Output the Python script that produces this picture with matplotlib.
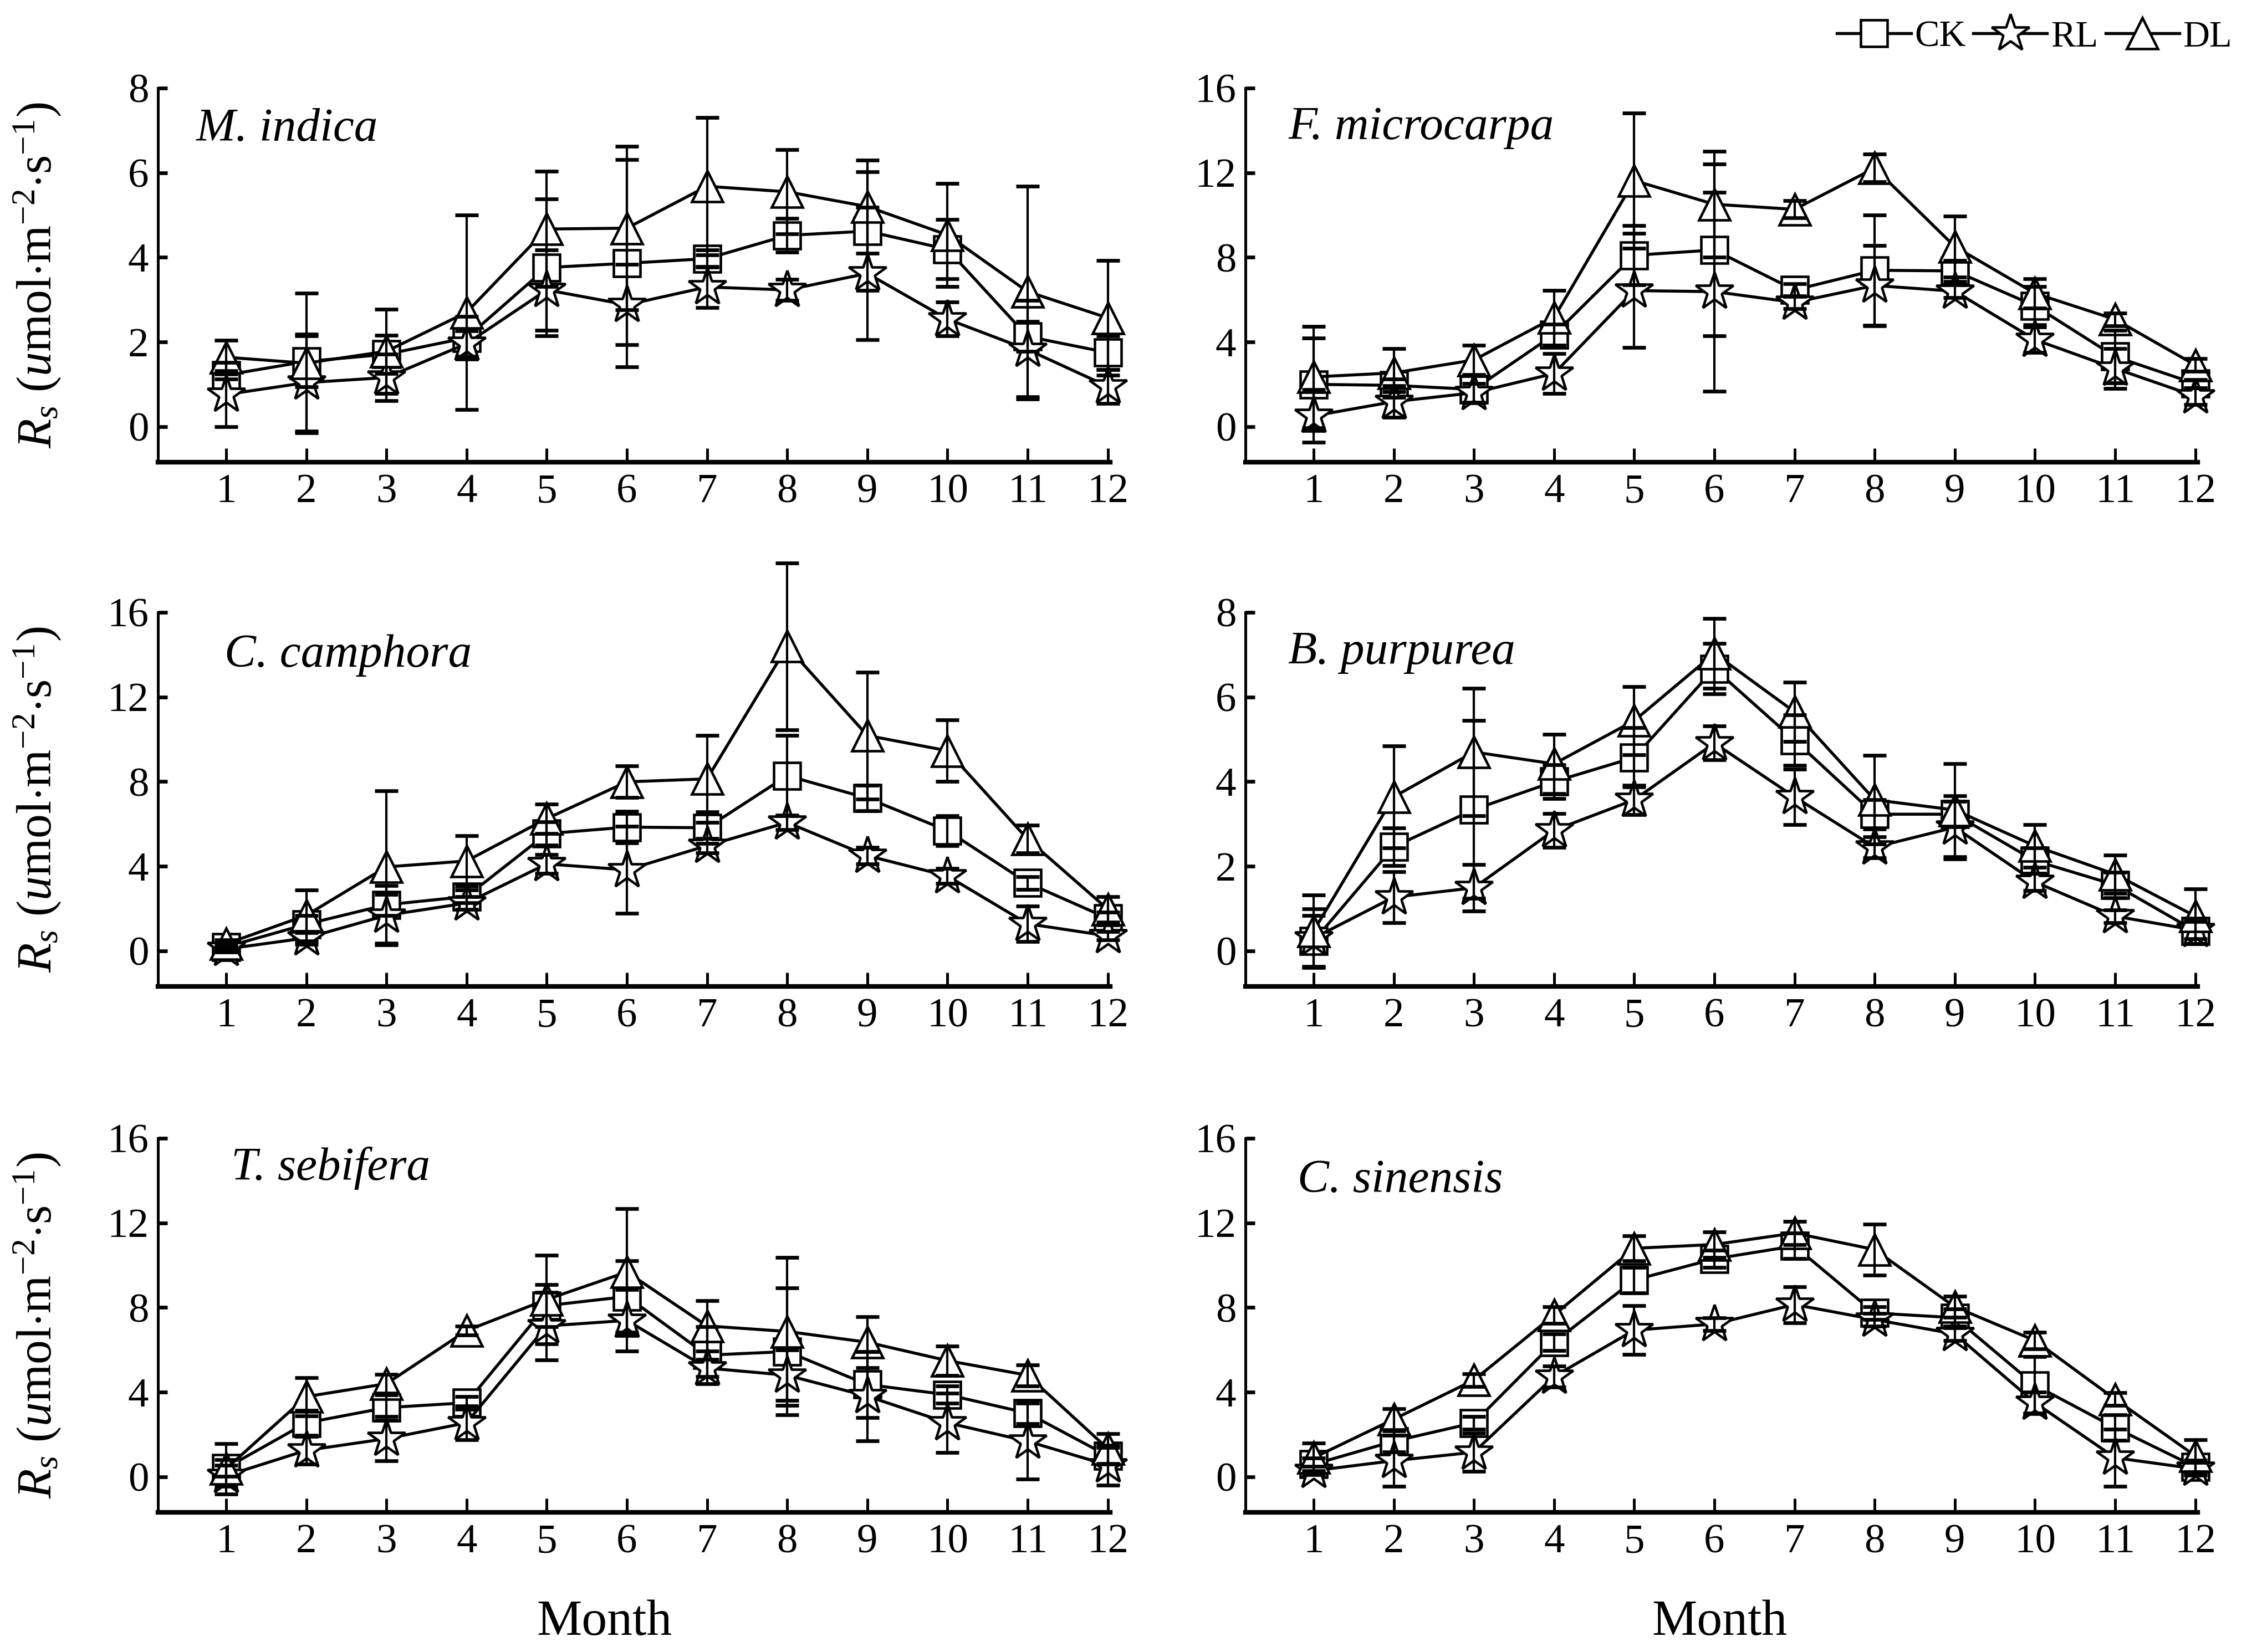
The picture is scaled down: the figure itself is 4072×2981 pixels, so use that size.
import numpy as np
import matplotlib
matplotlib.use("Agg")
import matplotlib.pyplot as plt
from matplotlib.lines import Line2D

plt.rcParams['font.family'] = ['Liberation Serif', 'DejaVu Serif']
plt.rcParams['mathtext.fontset'] = 'custom'
plt.rcParams['mathtext.rm'] = 'Liberation Serif'
plt.rcParams['mathtext.it'] = 'Liberation Serif:italic'
plt.rcParams['mathtext.bf'] = 'Liberation Serif:bold'

months = list(range(1, 13))
species = ["M. indica", "F. microcarpa", "C. camphora", "B. purpurea", "T. sebifera", "C. sinensis"]
series_names = ["CK", "RL", "DL"]

# M. indica
mi_ck = [1.22, 1.54, 1.71, 2.10, 3.76, 3.86, 3.97, 4.52, 4.62, 4.19, 2.13, 1.75]
mi_rl = [0.76, 1.04, 1.16, 1.96, 3.23, 2.88, 3.30, 3.23, 3.62, 2.54, 1.82, 0.95]
mi_dl = [1.64, 1.50, 1.78, 2.70, 4.67, 4.69, 5.68, 5.55, 5.20, 4.53, 3.19, 2.57]
mi_ck_err = [0.10, 0.60, 0.45, 0.50, 1.62, 2.45, 0.20, 0.40, 1.40, 0.70, 0.35, 0.40]
mi_rl_err = [0.76, 1.15, 0.55, 0.30, 0.95, 0.95, 0.48, 0.25, 1.57, 0.40, 1.17, 0.40]
mi_dl_err = [0.40, 1.65, 1.00, 2.30, 1.36, 1.93, 1.62, 1.00, 1.10, 1.22, 2.49, 1.36]

# F. microcarpa
fm_ck = [2.00, 1.95, 1.76, 4.35, 8.10, 8.35, 6.46, 7.39, 7.36, 5.71, 3.31, 2.03]
fm_rl = [0.51, 1.18, 1.60, 2.51, 6.43, 6.38, 5.87, 6.67, 6.40, 4.11, 2.75, 1.44]
fm_dl = [2.35, 2.54, 3.15, 5.15, 11.63, 10.51, 10.27, 12.22, 8.51, 6.30, 5.07, 2.91]
fm_ck_err = [2.20, 0.30, 0.65, 0.50, 1.40, 4.05, 0.30, 2.60, 0.50, 0.90, 1.25, 0.20]
fm_rl_err = [1.25, 0.75, 0.45, 0.95, 2.70, 4.70, 0.30, 1.90, 0.30, 0.60, 0.95, 0.40]
fm_dl_err = [2.40, 1.15, 0.70, 1.30, 3.20, 2.50, 0.40, 0.65, 1.45, 0.70, 0.30, 0.30]

# C. camphora
cc_ck = [0.19, 1.26, 2.18, 2.57, 5.54, 5.85, 5.82, 8.28, 7.22, 5.68, 3.21, 1.54]
cc_rl = [0.09, 0.61, 1.68, 2.26, 4.11, 3.83, 4.97, 6.07, 4.50, 3.54, 1.28, 0.71]
cc_dl = [0.33, 1.68, 3.97, 4.25, 6.25, 7.99, 8.13, 14.39, 10.18, 9.46, 5.28, 1.97]
cc_ck_err = [0.20, 0.40, 0.50, 0.30, 0.55, 0.75, 0.75, 1.90, 0.60, 0.70, 0.30, 0.30]
cc_rl_err = [0.15, 0.30, 1.40, 0.30, 0.45, 2.05, 0.35, 0.35, 0.40, 0.35, 0.85, 0.20]
cc_dl_err = [0.20, 1.20, 3.60, 1.20, 0.70, 0.75, 2.05, 3.95, 3.00, 1.45, 0.65, 0.60]

# B. purpurea
bp_ck = [0.23, 2.46, 3.34, 4.00, 4.57, 6.67, 4.98, 3.23, 3.23, 2.13, 1.56, 0.47]
bp_rl = [0.30, 1.27, 1.49, 2.85, 3.57, 4.91, 3.64, 2.45, 2.92, 1.63, 0.82, 0.49]
bp_dl = [0.47, 3.64, 4.70, 4.42, 5.44, 7.03, 5.65, 3.57, 3.33, 2.48, 1.81, 0.82]
bp_ck_err = [0.60, 0.45, 2.10, 0.40, 0.70, 0.60, 0.60, 0.35, 0.30, 0.30, 0.30, 0.30]
bp_rl_err = [0.70, 0.60, 0.55, 0.40, 0.35, 0.40, 0.65, 0.25, 0.75, 0.20, 0.15, 0.20]
bp_dl_err = [0.85, 1.20, 1.50, 0.70, 0.80, 0.82, 0.70, 1.05, 1.10, 0.50, 0.45, 0.65]

# T. sebifera
ts_ck = [0.42, 2.55, 3.27, 3.50, 8.09, 8.52, 5.75, 5.92, 4.36, 3.88, 3.01, 0.99]
ts_rl = [0.05, 1.25, 1.80, 2.55, 7.13, 7.39, 5.14, 4.80, 3.81, 2.55, 1.68, 0.55]
ts_dl = [0.38, 3.79, 4.40, 6.91, 8.38, 9.68, 7.13, 6.87, 6.36, 5.49, 4.80, 1.33]
ts_ck_err = [0.40, 0.60, 0.60, 0.30, 1.00, 1.70, 1.35, 3.00, 1.55, 0.40, 0.50, 0.40]
ts_rl_err = [0.50, 0.65, 1.05, 0.80, 1.60, 1.45, 0.40, 1.20, 2.10, 1.40, 1.80, 0.95]
ts_dl_err = [1.20, 0.90, 0.45, 0.20, 2.10, 3.00, 1.20, 3.50, 1.20, 0.70, 0.50, 0.70]

# C. sinensis
cs_ck = [0.59, 1.68, 2.55, 6.36, 9.30, 10.30, 10.91, 7.74, 7.52, 4.33, 2.32, 0.47]
cs_rl = [0.29, 0.76, 1.16, 4.74, 6.93, 7.22, 8.14, 7.43, 6.75, 3.50, 0.90, 0.38]
cs_dl = [0.90, 2.72, 4.57, 7.65, 10.80, 10.98, 11.52, 10.74, 8.03, 6.44, 3.67, 0.99]
cs_ck_err = [0.30, 0.50, 0.30, 0.40, 0.60, 0.40, 0.60, 0.30, 0.40, 1.35, 0.60, 0.30]
cs_rl_err = [0.20, 1.20, 0.90, 0.50, 1.15, 0.30, 0.85, 0.30, 0.30, 0.50, 1.35, 0.30]
cs_dl_err = [0.70, 0.50, 0.30, 0.40, 0.60, 0.60, 0.55, 1.20, 0.50, 0.40, 0.30, 0.75]

panels = [
    (species[0], [mi_ck, mi_rl, mi_dl], [mi_ck_err, mi_rl_err, mi_dl_err]),
    (species[1], [fm_ck, fm_rl, fm_dl], [fm_ck_err, fm_rl_err, fm_dl_err]),
    (species[2], [cc_ck, cc_rl, cc_dl], [cc_ck_err, cc_rl_err, cc_dl_err]),
    (species[3], [bp_ck, bp_rl, bp_dl], [bp_ck_err, bp_rl_err, bp_dl_err]),
    (species[4], [ts_ck, ts_rl, ts_dl], [ts_ck_err, ts_rl_err, ts_dl_err]),
    (species[5], [cs_ck, cs_rl, cs_dl], [cs_ck_err, cs_rl_err, cs_dl_err]),
]
ymax = [8, 16, 16, 8, 16, 16]
label_pos = [(0.040, 0.89), (0.045, 0.894), (0.070, 0.885), (0.045, 0.892), (0.077, 0.92), (0.055, 0.886)]

markers = ['s', '*', '^']
msizes = [11.5, 17, 13.5]

W, H = 4072, 2981
fig = plt.figure(figsize=(W / 300, H / 300), dpi=300)

col_left = [285 / W, 2247 / W]
col_w = 1718 / W
row_bottom = [1 - 834 / H, 1 - 1780 / H, 1 - 2729 / H]
row_h = 675 / H

for i, (name, vals, errs) in enumerate(panels):
    r, c = divmod(i, 2)
    ax = fig.add_axes([col_left[c], row_bottom[r], col_w, row_h])
    for k in range(3):
        ax.plot(months, vals[k], color='black', lw=1.3, marker=markers[k],
                markersize=msizes[k], markerfacecolor='white', markeredgecolor='black',
                markeredgewidth=1.1, zorder=2, clip_on=False)
        eb = ax.errorbar(months, vals[k], yerr=errs[k], fmt='none', ecolor='black',
                         elinewidth=1.0, capsize=5, capthick=1.6, zorder=3)
        for art in eb.lines[1]:
            art.set_clip_on(False)
        for art in eb.lines[2]:
            art.set_clip_on(False)
    ym = ymax[i]
    ax.set_ylim(-0.105 * ym, ym)
    ax.set_xlim(0.15, 12.03)
    ticks = np.arange(0, ym + 0.1, ym / 4)
    ax.set_yticks(ticks)
    ax.set_yticklabels([str(int(v)) for v in ticks])
    ax.set_xticks(months)
    ax.set_xticklabels([str(m) for m in months])
    for s in ['top', 'right']:
        ax.spines[s].set_visible(False)
    ax.spines['bottom'].set_linewidth(2.0)
    ax.spines['left'].set_linewidth(1.2)
    ax.tick_params(axis='both', direction='in', labelsize=18)
    ax.tick_params(axis='x', length=6, width=1.2, pad=5)
    ax.tick_params(axis='y', length=4, width=1.6, pad=4)
    ax.text(label_pos[i][0], label_pos[i][1], name, transform=ax.transAxes,
            fontsize=20.5, style='italic', ha='left', va='center')
    if c == 0:
        ax.set_ylabel(r"$R_s$ ($u$mol$\cdot$m$^{-2}$$\cdot$s$^{-1}$)", fontsize=21)
        ax.yaxis.set_label_coords(-0.1, 0.5)
    if r == 2:
        ax.set_xlabel("Month", fontsize=22)
        ax.xaxis.set_label_coords(0.469 if c == 0 else 0.498, -0.234)

handles = [Line2D([0], [0], color='black', lw=1.3, marker=markers[k], markersize=msizes[k],
                  markerfacecolor='white', markeredgecolor='black', markeredgewidth=1.1)
           for k in range(3)]
fig.legend(handles, series_names, loc='upper right', bbox_to_anchor=(0.998, 1.0), ncol=3,
           frameon=False, fontsize=16, handlelength=2.0, handletextpad=0.1, columnspacing=0.2,
           borderaxespad=0.15)

fig.savefig("out.png", dpi=300)
